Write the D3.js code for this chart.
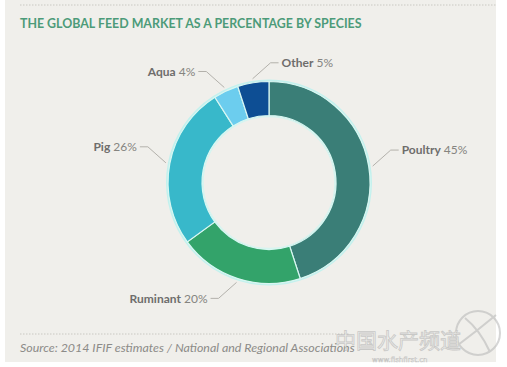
<!DOCTYPE html>
<html><head><meta charset="utf-8">
<script src="https://cdn.jsdelivr.net/npm/d3@7"></script>
<style>html,body{margin:0;padding:0;background:#fff;}svg{display:block;}</style>
</head><body>
<script>
const title = "THE GLOBAL FEED MARKET AS A PERCENTAGE BY SPECIES";
const source = "Source: 2014 IFIF estimates / National and Regional Associations";
const categories = ["Poultry", "Ruminant", "Pig", "Aqua", "Other"];
const values = [45, 20, 26, 4, 5];
const colors = ["#3a7e77", "#33a36a", "#38b8ca", "#6ccdee", "#0d4e94"];

const W = 507, H = 367;
const svg = d3.select("body").append("svg").attr("width", W).attr("height", H);

// panel
svg.append("rect").attr("x", 5).attr("y", 0).attr("width", 491).attr("height", 362).attr("fill", "#f0efeb");
svg.append("line").attr("x1", 20).attr("x2", 496).attr("y1", 5).attr("y2", 5)
  .attr("stroke", "#c9c8c2").attr("stroke-width", 1).attr("stroke-dasharray", "1.5,1.5");
svg.append("line").attr("x1", 20).attr("x2", 350).attr("y1", 334).attr("y2", 334)
  .attr("stroke", "#c9c8c2").attr("stroke-width", 1).attr("stroke-dasharray", "1.5,1.5");

svg.append("text").attr("x", 20).attr("y", 28).text(title)
  .attr("font-family", "Lato, sans-serif").attr("font-weight", 700).attr("font-size", 12.4)
  .attr("fill", "#4c9b79");

svg.append("text").attr("x", 20).attr("y", 352).text(source)
  .attr("font-family", "Lato, sans-serif").attr("font-style", "italic").attr("font-size", 12.4)
  .attr("fill", "#8c8b88");

// donut
const cx = 269, cy = 182.5, rOut = 101, rIn = 67;
const pie = d3.pie().sort(null).value(d => d)(values);
const arc = d3.arc().innerRadius(rIn).outerRadius(rOut);
const g = svg.append("g").attr("transform", `translate(${cx},${cy})`);
g.append("circle").attr("r", rOut + 1).attr("fill", "none").attr("stroke", "#c3f1ee").attr("stroke-width", 2);
g.append("circle").attr("r", rIn - 1).attr("fill", "none").attr("stroke", "#d6f4f0").attr("stroke-width", 1.5);
g.selectAll("path.slice").data(pie).join("path").attr("class", "slice")
  .attr("d", arc).attr("fill", (d, i) => colors[i])
  .attr("stroke", "#d8f7f2").attr("stroke-width", 1.2);

// labels with leader lines
pie.forEach((d, i) => {
  const mid = (d.startAngle + d.endAngle) / 2;
  const r0 = rOut + 4;
  const x0 = r0 * Math.sin(mid), y0 = -r0 * Math.cos(mid);
  const side = Math.sin(mid + 0.2) >= 0 ? 1 : -1;
  const vdir = Math.cos(mid) > 0 ? -1 : 1;
  const x1 = x0 + side * 18, y1 = y0 + vdir * 16;
  const x2 = x1 + side * 8;
  g.append("polyline").attr("points", `${x0},${y0} ${x1},${y1} ${x2},${y1}`)
    .attr("fill", "none").attr("stroke", "#b3b1ab").attr("stroke-width", 1);
  const t = g.append("text").attr("x", x2 + side * 3).attr("y", y1)
    .attr("dy", "0.35em").attr("text-anchor", side > 0 ? "start" : "end")
    .attr("font-family", "Lato, sans-serif").attr("font-size", 12);
  t.append("tspan").attr("font-weight", 700).attr("fill", "#6e6d6b").text(categories[i]);
  t.append("tspan").attr("fill", "#858480").text(" " + values[i] + "%");
});

// watermark
const wm = svg.append("g").attr("opacity", 0.55);
wm.append("circle").attr("cx", 478).attr("cy", 333).attr("r", 22)
  .attr("fill", "none").attr("stroke", "#b5b5b5").attr("stroke-width", 2);
wm.append("path").attr("d", "M458,345 Q478,330 496,315 M465,318 Q480,330 490,352")
  .attr("fill", "none").attr("stroke", "#b5b5b5").attr("stroke-width", 2);
wm.append("text").attr("x", 335).attr("y", 348).text("中国水产频道")
  .attr("font-family", "Noto Sans CJK SC").attr("font-size", 21)
  .attr("fill", "#f4f4f4").attr("stroke", "#a9a9a9").attr("stroke-width", 0.8);
wm.append("text").attr("x", 372).attr("y", 362).text("www.fishfirst.cn")
  .attr("font-family", "DejaVu Sans, sans-serif").attr("font-size", 7)
  .attr("fill", "#ffffff").attr("stroke", "#9a9a9a").attr("stroke-width", 0.4);
</script>
</body></html>
